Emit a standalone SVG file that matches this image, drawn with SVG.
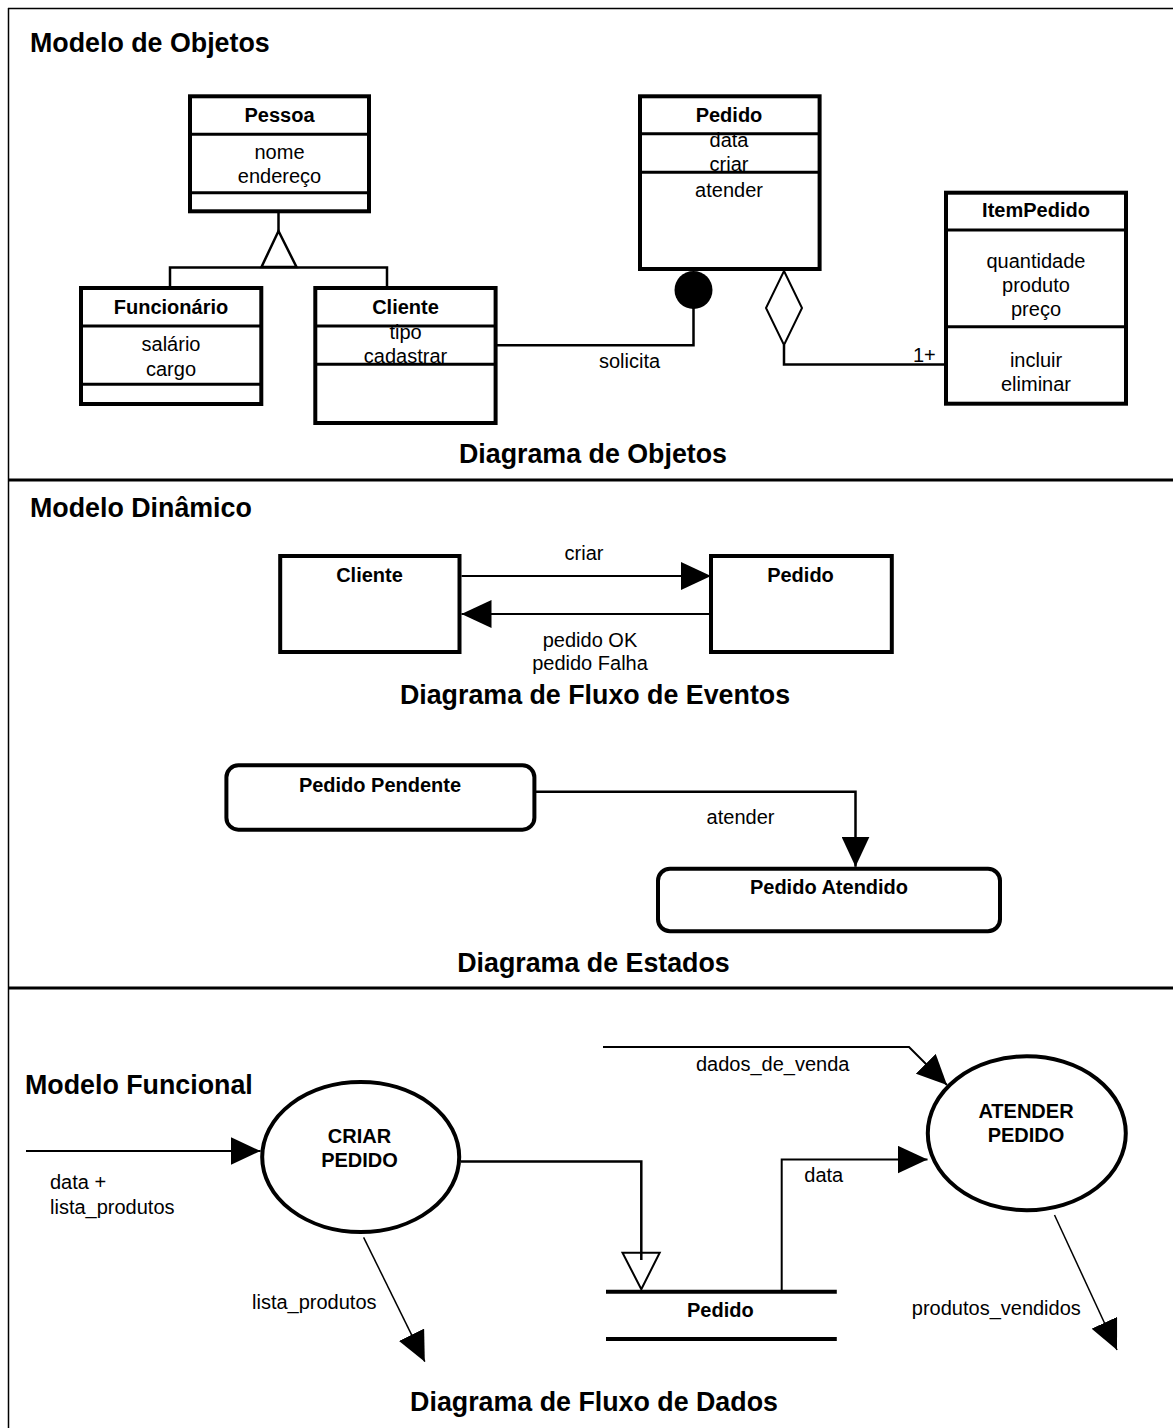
<svg xmlns="http://www.w3.org/2000/svg" width="1173" height="1428" viewBox="0 0 1173 1428">
  <style>
    text { font-family: "Liberation Sans", Arial, sans-serif; fill: #000; }
    .h { font-size: 26.8px; font-weight: bold; }
    .b { font-size: 20px; font-weight: bold; text-anchor: middle; }
    .t { font-size: 20px; text-anchor: middle; }
    .l { font-size: 20px; }
    .box { fill: #fff; stroke: #000; stroke-width: 4; }
    .div { stroke: #000; stroke-width: 3; fill: none; }
    .ln { stroke: #000; stroke-width: 2.5; fill: none; }
    .thin { stroke: #000; stroke-width: 2; fill: none; }
    .hair { stroke: #000; stroke-width: 1.5; fill: none; }
    .frame { stroke: #000; fill: none; }
  </style>
  <defs>
    <marker id="arrow" viewBox="0 0 30 28" refX="30" refY="14" markerWidth="30" markerHeight="28" markerUnits="userSpaceOnUse" orient="auto">
      <path d="M0,0 L30,14 L0,28 Z" fill="#000"/>
    </marker>
  </defs>

  <rect x="0" y="0" width="1173" height="1428" fill="#fff"/>

  <!-- page frame and section dividers -->
  <g id="frame">
    <line class="frame" x1="8" y1="8.5" x2="1173" y2="8.5" stroke-width="1.7"/>
    <line class="frame" x1="8.5" y1="8" x2="8.5" y2="1428" stroke-width="1.5"/>
    <line class="frame" x1="8" y1="480" x2="1173" y2="480" stroke-width="3"/>
    <line class="frame" x1="8" y1="988" x2="1173" y2="988" stroke-width="3"/>
  </g>

  <!-- section titles -->
  <g id="titles">
    <text class="h" x="30" y="52">Modelo de Objetos</text>
    <text class="h" x="593" y="463" text-anchor="middle">Diagrama de Objetos</text>
    <text class="h" x="30" y="517">Modelo Dinâmico</text>
    <text class="h" x="595" y="704" text-anchor="middle">Diagrama de Fluxo de Eventos</text>
    <text class="h" x="593.5" y="972" text-anchor="middle">Diagrama de Estados</text>
    <text class="h" x="25" y="1094">Modelo Funcional</text>
    <text class="h" x="594" y="1411" text-anchor="middle">Diagrama de Fluxo de Dados</text>
  </g>

  <!-- connectors -->
  <g id="connectors">
    <!-- generalization Pessoa -> Funcionário / Cliente -->
    <line class="ln" x1="278.5" y1="212" x2="278.5" y2="231"/>
    <polygon class="ln" points="278.5,231 296.5,267 261.5,267"/>
    <polyline class="ln" points="170,288 170,267.5 387,267.5 387,288"/>
    <!-- association solicita -->
    <polyline class="ln" points="497,345.3 693.5,345.3 693.5,305"/>
    <circle cx="693.5" cy="290" r="19" fill="#000"/>
    <text class="l" x="599" y="368">solicita</text>
    <!-- aggregation Pedido - ItemPedido -->
    <polygon class="thin" points="784,271 802,308 784,345 766,308" fill="#fff"/>
    <polyline class="ln" points="784,345 784,364.5 944,364.5"/>
    <text class="l" x="913" y="362">1+</text>

    <!-- event flow -->
    <line class="thin" x1="461.5" y1="576" x2="711" y2="576" marker-end="url(#arrow)"/>
    <text class="t" x="584" y="560">criar</text>
    <line class="thin" x1="709" y1="614" x2="461.5" y2="614" marker-end="url(#arrow)"/>
    <text class="t" x="590" y="646.5">pedido OK</text>
    <text class="t" x="590" y="670">pedido Falha</text>

    <!-- state transition -->
    <polyline class="ln" points="536,791.7 855.5,791.7 855.5,866.7" marker-end="url(#arrow)"/>
    <text class="t" x="740.5" y="824">atender</text>

    <!-- data flows -->
    <line class="thin" x1="26" y1="1151" x2="260.5" y2="1151" marker-end="url(#arrow)"/>
    <text class="l" x="50" y="1189.3">data +</text>
    <text class="l" x="50" y="1214.3">lista_produtos</text>
    <line class="hair" x1="363.6" y1="1237.3" x2="424.8" y2="1361.7" marker-end="url(#arrow)"/>
    <text class="l" x="252" y="1309.3">lista_produtos</text>
    <polyline class="ln" points="461,1161.5 641.3,1161.5 641.3,1260"/>
    <polygon class="thin" points="622.5,1252.7 659.7,1252.7 641.3,1289.3"/>
    <polyline class="thin" points="781.7,1291 781.7,1159.6 927.5,1159.6" marker-end="url(#arrow)"/>
    <text class="l" x="804.3" y="1181.7">data</text>
    <polyline class="thin" points="603,1047 909,1047 947,1085" marker-end="url(#arrow)"/>
    <text class="l" x="696" y="1070.7">dados_de_venda</text>
    <line class="hair" x1="1054.5" y1="1215" x2="1117" y2="1350" marker-end="url(#arrow)"/>
    <text class="l" x="911.8" y="1315">produtos_vendidos</text>
  </g>

  <!-- object model classes -->
  <g id="pessoa">
    <rect class="box" x="190" y="96.3" width="179" height="115"/>
    <line class="div" x1="190" y1="134.3" x2="369" y2="134.3"/>
    <line class="div" x1="190" y1="192.7" x2="369" y2="192.7"/>
    <text class="b" x="279.5" y="122.3">Pessoa</text>
    <text class="t" x="279.5" y="159.3">nome</text>
    <text class="t" x="279.5" y="183.3">endereço</text>
  </g>

  <g id="funcionario">
    <rect class="box" x="81" y="288" width="180.3" height="116"/>
    <line class="div" x1="81" y1="326" x2="261.3" y2="326"/>
    <line class="div" x1="81" y1="384.3" x2="261.3" y2="384.3"/>
    <text class="b" x="171" y="314">Funcionário</text>
    <text class="t" x="171" y="351">salário</text>
    <text class="t" x="171" y="375.5">cargo</text>
  </g>

  <g id="cliente">
    <rect class="box" x="315.3" y="288" width="180.3" height="135"/>
    <text class="b" x="405.5" y="314">Cliente</text>
    <text class="t" x="405.5" y="339.3">tipo</text>
    <text class="t" x="405.5" y="363.3">cadastrar</text>
    <line class="div" x1="315.3" y1="326" x2="495.6" y2="326"/>
    <line class="div" x1="315.3" y1="364.3" x2="495.6" y2="364.3"/>
  </g>

  <g id="pedido">
    <rect class="box" x="640" y="96.3" width="179.6" height="172.7"/>
    <text class="b" x="729" y="121.7">Pedido</text>
    <text class="t" x="729" y="146.7">data</text>
    <text class="t" x="729" y="170.7">criar</text>
    <text class="t" x="729" y="196.7">atender</text>
    <line class="div" x1="640" y1="133.7" x2="819.6" y2="133.7"/>
    <line class="div" x1="640" y1="172.3" x2="819.6" y2="172.3"/>
  </g>

  <g id="itempedido">
    <rect class="box" x="946" y="192.7" width="180" height="211"/>
    <line class="div" x1="946" y1="230" x2="1126" y2="230"/>
    <line class="div" x1="946" y1="326.7" x2="1126" y2="326.7"/>
    <text class="b" x="1036" y="216.7">ItemPedido</text>
    <text class="t" x="1036" y="268.3">quantidade</text>
    <text class="t" x="1036" y="292.3">produto</text>
    <text class="t" x="1036" y="316.3">preço</text>
    <text class="t" x="1036" y="366.7">incluir</text>
    <text class="t" x="1036" y="391">eliminar</text>
  </g>

  <!-- event flow objects -->
  <g id="ev-cliente">
    <rect class="box" x="280.2" y="556" width="179.3" height="96"/>
    <text class="b" x="369.5" y="581.7">Cliente</text>
  </g>
  <g id="ev-pedido">
    <rect class="box" x="711" y="556" width="180.8" height="96"/>
    <text class="b" x="800.5" y="581.7">Pedido</text>
  </g>

  <!-- states -->
  <g id="st-pendente">
    <rect class="box" x="226.4" y="765.3" width="308" height="64.4" rx="12" ry="12"/>
    <text class="b" x="380" y="791.7">Pedido Pendente</text>
  </g>
  <g id="st-atendido">
    <rect class="box" x="658" y="868.7" width="342" height="62.6" rx="12" ry="12"/>
    <text class="b" x="829" y="894">Pedido Atendido</text>
  </g>

  <!-- processes and data store -->
  <g id="proc-criar">
    <ellipse class="box" cx="360.7" cy="1157" rx="98.5" ry="75"/>
    <text class="b" x="359.5" y="1143.3">CRIAR</text>
    <text class="b" x="359.5" y="1167.3">PEDIDO</text>
  </g>
  <g id="proc-atender">
    <ellipse class="box" cx="1026.8" cy="1133.3" rx="99" ry="77"/>
    <text class="b" x="1026" y="1118.3">ATENDER</text>
    <text class="b" x="1026" y="1141.7">PEDIDO</text>
  </g>
  <g id="store-pedido">
    <line x1="606" y1="1291.7" x2="836.8" y2="1291.7" stroke="#000" stroke-width="4"/>
    <line x1="606" y1="1339" x2="836.8" y2="1339" stroke="#000" stroke-width="4"/>
    <text class="b" x="720.3" y="1317.3">Pedido</text>
  </g>
</svg>
